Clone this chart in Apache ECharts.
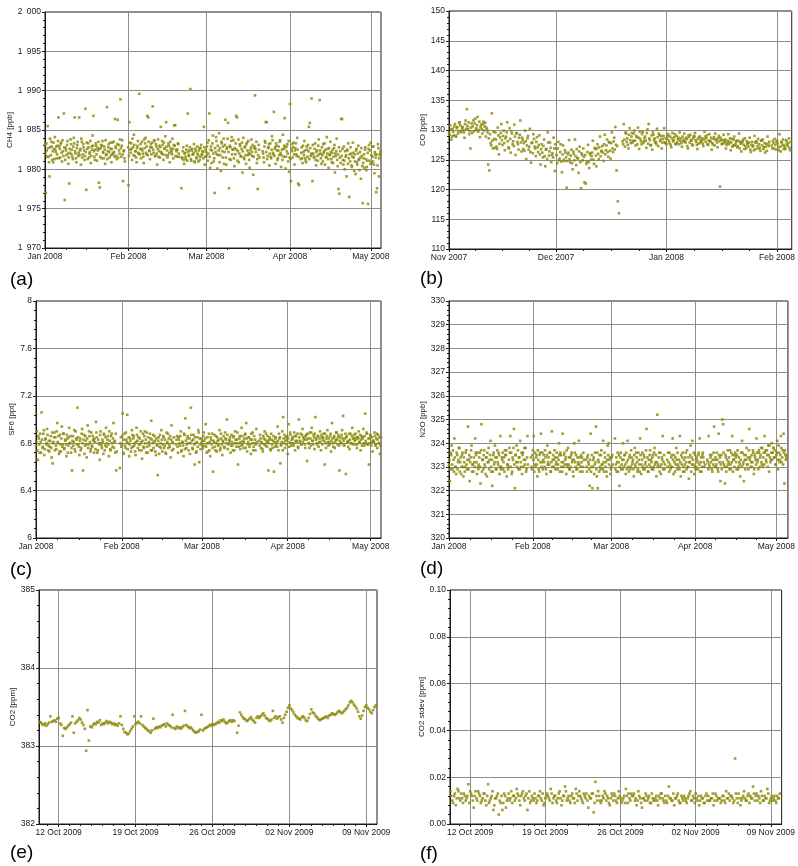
<!DOCTYPE html>
<html>
<head>
<meta charset="utf-8">
<script src="https://cdn.jsdelivr.net/npm/echarts@6/dist/echarts.min.js"></script>
<style>
  html, body { margin: 0; padding: 0; background: #fff; }
  #chart { width: 798px; height: 866px; }
</style>
</head>
<body>
<div id="chart"></div>
<script>
// Two interleaved sample passes per panel where the reference band is dense.

// (a) CH4 [ppb], 8 h sampling from 1 Jan 2008 00:00 and 04:00
const ch4Start = '2008-01-01T00:00:00';
const ch4StartB = '2008-01-01T04:00:00';
const ch4StepH = 8;
const ch4Values = [
  1983.1,1977.0,1982.4, 1985.5,1981.6,1979.1, 1982.8,1983.5,1981.2, 1980.9,1982.6,1984.1, 1982.2,1981.4,1983.0,
  1986.6,1982.9,1981.5, 1983.4,1981.0,1982.3, 1987.1,1976.1,1982.7, 1981.8,1983.6,1980.7, 1978.2,1982.1,1983.2,
  1982.5,1981.3,1984.0, 1986.6,1982.0,1980.9, 1983.1,1981.7,1986.6, 1982.4,1980.6,1983.5, 1981.9,1982.8,1981.2,
  1987.7,1977.4,1982.6, 1983.3,1981.5,1982.2, 1980.8,1982.9,1984.3, 1986.8,1981.6,1982.5, 1983.0,1981.1,1982.4,
  1978.3,1977.7,1982.7, 1981.4,1983.6,1982.1, 1982.9,1980.7,1981.8, 1987.9,1982.3,1983.2, 1981.5,1982.6,1980.9,
  1983.4,1981.9,1982.2, 1986.4,1982.7,1981.3, 1986.3,1983.1,1982.0, 1988.9,1981.6,1983.7, 1978.5,1982.4,1981.0,
  null,null,null, 1978.0,1986.0,1982.5, 1983.3,1981.2,1982.8, 1984.4,1981.7,1982.3, 1980.9,1983.0,1982.1,
  1989.6,1982.6,1981.4, 1983.5,1982.0,1980.8, 1982.7,1984.0,1981.9, 1986.8,1986.6,1982.4, 1981.3,1983.2,1982.8,
  1988.0,1982.1,1983.6, 1981.7,1982.9,1980.6, 1983.8,1982.3,1981.5, 1985.4,1982.0,1983.1, 1981.2,1982.6,1984.2,
  1986.0,1982.4,1981.8, 1983.0,1980.9,1982.7, 1982.2,1983.9,1981.4, 1985.6,1985.6,1982.5, 1981.6,1983.3,1982.0,
  null,null,1977.6, 1981.5,1982.8,1980.7, 1982.1,1981.3,1983.0, 1987.1,1981.8,1982.4, 1990.2,1981.1,1982.6,
  1981.9,1983.2,1980.9, 1982.3,1981.4,1982.0, 1981.0,1982.7,1981.6, 1983.1,1981.8,1982.2, 1985.4,1980.6,1982.5,
  1981.7,1983.4,1982.0, 1987.1,1980.2,1982.9, 1982.4,1984.3,1981.0, 1977.0,1982.2,1983.6, 1980.1,1981.8,1984.6,
  1982.7,1979.8,1983.3, 1981.5,1983.9,1982.2, 1986.3,1980.6,1982.8, 1985.9,1977.6,1983.0, 1981.2,1984.1,1982.5,
  1983.7,1980.4,1981.9, 1986.8,1986.6,1982.3, 1980.9,1983.2,1981.6, 1982.6,1979.6,1984.0, 1981.3,1982.9,1980.7,
  1983.4,1981.8,1982.1, 1980.2,1982.5,1983.8, 1981.7,1979.3,1982.7, 1989.4,1982.2,1980.8, 1977.5,1983.1,1981.5,
  null,null,null, 1982.0,1980.9,1983.6, 1986.0,1986.0,1981.7, 1982.8,1980.5,1983.3, 1981.4,1984.2,1982.1,
  1987.3,1982.6,1980.7, 1983.0,1981.2,1982.4, 1981.8,1983.7,1980.3, 1982.5,1984.4,1981.6, 1986.5,1980.1,1982.9,
  1983.2,1981.0,1979.7, 1988.3,1978.5,1982.3, 1981.5,1983.4,1980.6, 1982.7,1981.9,1984.0, 1978.2,1978.0,null,
  1981.3,1982.8,1980.8, 1982.2,1983.6,1981.4, 1980.9,1982.5,1983.1, 1985.4,1985.9,1981.7, 1989.0,1978.5,1982.0,
  1981.6,1983.3,1980.5, 1982.4,1981.1,1983.8, 1988.8,1982.0,1980.7, 1981.8,1983.2,1982.3, 1980.6,1981.5,1984.1,
  1982.6,1980.2,1981.9, 1983.5,1981.3,1982.1, 1980.8,1982.7,1979.6, 1981.7,1983.9,1980.4, 1977.5,1976.9,1982.3,
  1986.4,1986.4,1981.2, 1982.9,1980.0,1981.6, 1979.1,1982.4,1983.3, 1976.5,1981.0,1982.0, 1980.3,1983.4,1981.5,
  1981.9,1979.4,1982.6, 1980.6,1983.0,1981.3, 1982.2,1978.8,1981.7, 1975.7,1981.4,1980.2, 1982.8,1979.9,1981.1,
  1975.6,1983.1,1982.4, 1983.4,1980.8,1981.6, 1982.9,1979.5,1981.9, 1977.1,1977.6,1983.2, 1979.1,1981.8,1982.3
];
const ch4ValuesB = [
  1982.0,1983.3,1981.6, 1982.7,1980.9,1983.9, 1981.8,1982.9,1982.3, 1983.4,1981.3,1982.5, 1982.9,1981.9,1983.6,
  1981.4,1982.6,1983.2, 1982.1,1983.7,1981.7, 1982.8,1981.2,1982.4, 1983.1,1982.0,1981.5, 1982.6,1983.8,1981.9,
  1981.6,1982.9,1983.3, 1982.3,1981.4,1982.7, 1983.5,1982.1,1981.8, 1982.6,1983.9,1981.5, 1983.2,1982.4,1981.7,
  1982.2,1983.4,1981.3, 1982.8,1982.0,1983.6, 1981.7,1982.5,1983.0, 1982.3,1981.2,1983.3, 1981.9,1982.7,1983.5,
  1982.6,1981.6,1983.1, 1983.0,1982.2,1981.4, 1982.5,1983.7,1981.9, 1981.3,1982.8,1982.2, 1983.4,1981.8,1982.6,
  1982.1,1983.5,1981.6, 1982.9,1981.7,1983.2, 1981.5,1982.4,1983.8, 1982.7,1983.0,1981.9, 1982.3,1981.4,null,
  null,null,1982.8, 1981.7,1983.4,1982.1, 1982.6,1983.9,1981.8, 1983.1,1982.3,1981.5, 1982.7,1983.6,1982.0,
  1981.9,1983.2,1982.6, 1982.4,1981.6,1983.8, 1983.3,1982.1,1982.9, 1981.8,1983.5,1982.3, 1982.8,1981.9,1983.4,
  1982.5,1983.7,1981.7, 1983.2,1982.0,1982.6, 1981.6,1983.0,1982.8, 1982.2,1983.6,1981.9, 1983.4,1982.7,1981.8,
  1982.9,1981.5,1983.3, 1982.1,1983.5,1982.4, 1981.9,1982.6,1983.1, 1983.0,1981.7,1982.3, 1982.5,1983.2,1981.6,
  null,null,1981.4, 1982.3,1981.2,1982.0, 1981.6,1982.5,1981.1, 1982.2,1981.7,1982.8, 1981.3,1982.4,1981.9,
  1982.1,1981.0,1982.6, 1981.5,1982.9,1981.8, 1982.4,1981.2,1982.7, 1981.9,1982.3,1981.4, 1982.8,1981.6,1982.2,
  1982.9,1981.1,1983.7, 1981.6,1982.5,1980.8, 1983.3,1982.0,1981.4, 1982.7,1984.1,1981.9, 1983.0,1982.4,1980.9,
  1981.8,1983.5,1982.3, 1982.9,1980.7,1983.1, 1981.5,1982.6,1983.9, 1982.2,1981.3,1982.8, 1983.6,1981.9,1982.5,
  1981.4,1982.7,1983.3, 1982.5,1981.1,1983.8, 1982.0,1983.0,1981.7, 1983.4,1982.3,1981.5, 1982.8,1981.8,1983.2,
  1982.4,1983.6,1981.2, 1981.9,1982.8,1982.2, 1983.1,1981.6,1982.9, 1982.6,1983.5,1981.3, 1981.8,1982.5,null,
  null,null,1982.3, 1981.5,1982.9,1983.4, 1982.2,1981.3,1982.7, 1983.2,1982.0,1981.6, 1982.5,1983.7,1981.9,
  1981.7,1982.8,1983.3, 1982.4,1981.4,1982.9, 1983.5,1982.1,1981.8, 1981.2,1982.6,1983.0, 1982.7,1981.6,1982.3,
  1982.0,1983.6,1981.5, 1981.3,1982.6,1983.2, 1982.8,1981.9,1982.4, 1983.3,1981.7,1982.5, 1981.6,null,null,
  1982.1,1981.4,1983.0, 1981.8,1982.4,1981.1, 1982.9,1981.6,1982.3, 1981.3,1982.7,1982.0, 1981.9,1983.1,1981.5,
  1982.6,1981.2,1982.2, 1981.7,1983.0,1981.9, 1982.4,1981.4,1982.8, 1981.0,1982.1,1983.3, 1982.5,1981.6,1982.0,
  1981.3,1982.7,1981.8, 1982.2,1980.9,1982.5, 1981.6,1983.1,1982.0, 1982.3,1981.2,1981.9, 1982.8,1981.5,1980.8,
  1981.7,1982.6,1980.6, 1981.1,1982.3,1981.8, 1982.5,1980.7,1981.4, 1981.9,1982.8,1980.5, 1981.6,1982.1,1979.8,
  1981.0,1982.4,1980.9, 1982.0,1981.2,1979.9, 1981.5,1982.7,1980.4, 1980.8,1981.9,1982.5, 1981.3,1980.3,1982.1,
  1982.6,1981.1,1980.7, 1981.8,1982.9,1981.0, 1980.6,1982.2,1981.5, 1981.9,1980.5,1982.7, 1981.4,1982.0,1980.9
];

// (b) CO [ppb], 8 h sampling from 1 Nov 2007 00:00 and 04:00
const coStart = '2007-11-01T00:00:00';
const coStartB = '2007-11-01T04:00:00';
const coStepH = 8;
const coValues = [
  129.5,130.8,128.4, 130.2,129.1,131.0, 128.9,130.5,129.8, 131.3,129.6,130.4, 130.0,128.7,131.6,
  133.5,130.2,129.3, 126.9,131.1,130.6, 129.8,131.9,130.3, 132.2,130.0,128.8, 130.9,129.4,131.4,
  130.6,128.9,130.1, 124.2,123.2,127.8, 132.8,126.9,128.5, 129.6,127.2,130.4, 125.9,128.8,131.0,
  127.5,129.9,126.6, 128.9,131.3,127.1, 130.3,126.2,129.4, 128.1,130.9,125.8, 129.5,127.6,128.7,
  131.6,126.4,128.3, 127.8,129.9,125.1, 128.6,126.7,130.2, 124.5,127.9,129.3, 127.2,125.6,128.8,
  126.3,129.1,124.2, 127.6,125.4,128.4, 123.9,126.8,129.6, 125.7,127.9,124.6, 126.1,128.7,123.1,
  126.9,124.4,128.0, 125.2,127.6,122.9, 127.4,124.8,126.2, 120.3,125.9,128.3, 124.6,126.7,123.4,
  126.0,128.4,124.1, 125.3,122.8,127.2, 120.2,125.8,126.9, 121.2,121.0,124.7, 127.5,123.6,126.1,
  125.6,128.2,124.3, 126.8,123.9,127.6, 125.1,128.9,126.4, 127.3,124.8,129.2, 126.6,128.4,125.5,
  127.9,125.2,129.6, 126.3,128.7,130.5, 123.2,118.0,116.0, null,null,128.1, 131.0,127.2,129.4,
  128.6,126.9,130.3, 127.8,129.5,128.2, 129.9,127.4,128.8, 130.4,126.8,128.5, 127.6,129.7,128.1,
  128.9,127.0,130.1, 131.0,128.3,127.5, 126.7,129.2,128.6, 128.0,130.2,127.3, 129.1,128.4,126.9,
  128.5,130.3,127.8, 127.6,129.0,128.2, 128.9,127.1,129.5, 128.3,129.3,127.6, 127.9,128.7,129.6,
  128.6,127.2,128.1, 129.4,127.9,128.5, 126.9,128.8,129.2, 128.2,127.4,129.0, 129.5,128.0,126.8,
  127.7,128.9,128.3, 128.6,127.3,129.7, 128.0,129.1,127.5, 129.3,128.2,126.7, 127.6,128.8,129.4,
  128.4,127.1,129.0, 120.5,128.3,127.7, 129.2,128.1,126.9, 127.8,129.3,128.0, 126.6,128.5,127.4,
  128.9,127.6,128.2, 127.3,129.4,128.0, 126.4,128.1,127.5, 128.6,126.9,127.8, 127.2,128.7,126.3,
  128.0,127.4,129.0, 126.8,127.9,128.5, 127.6,126.5,128.2, 128.4,127.1,126.2, 127.7,128.9,127.3,
  null,null,126.9, 127.8,128.5,126.7, 128.2,127.1,129.3, 126.4,127.9,128.4, 127.5,126.8,128.1,
  127.3,128.6,126.6
];
const coValuesB = [
  129.2,130.1,128.9, 129.7,130.6,129.0, 130.3,129.4,131.2, 130.8,129.9,130.5, 129.6,131.0,130.2,
  130.7,131.3,129.8, 130.4,129.5,131.6, 131.1,130.0,130.8, 129.7,131.4,130.5, 130.2,131.0,129.9,
  131.2,130.4,129.6, 128.6,129.3,127.4, 128.2,129.7,127.0, 128.4,126.8,129.1, 127.7,129.5,128.3,
  129.0,127.8,128.6, 129.6,128.1,126.9, 128.5,129.8,127.6, 127.3,128.9,129.4, 128.0,126.7,129.2,
  127.9,128.7,126.8, 126.5,128.1,127.4, 129.0,127.2,126.3, 127.8,126.1,128.5, 126.9,128.0,127.1,
  127.5,125.9,126.8, 126.2,127.3,125.6, 126.7,125.1,127.9, 126.4,127.0,125.8, 125.4,126.9,127.6,
  125.8,126.9,124.9, 126.3,124.7,125.9, 125.0,126.6,125.4, 124.8,126.2,125.1, 125.7,124.4,126.4,
  124.9,125.6,126.8, 125.2,126.4,124.6, 126.1,124.9,125.5, 125.8,124.3,126.3, 124.6,125.9,125.0,
  126.2,125.0,127.0, 125.7,126.9,126.0, 127.1,125.6,126.5, 126.2,127.6,125.9, 127.4,126.3,128.0,
  126.5,127.8,126.9, 128.1,126.7,127.5, 127.3,null,null, null,null,127.6, 128.4,129.6,128.0,
  127.5,129.2,128.3, 128.9,127.9,129.4, 128.2,129.0,127.6, 128.7,129.7,128.1, 129.3,127.8,128.6,
  128.2,129.5,127.7, 128.6,127.4,129.1, 129.6,128.3,127.9, 127.6,128.8,129.4, 128.1,129.0,127.9,
  129.0,127.9,128.6, 128.5,129.3,127.8, 127.5,128.6,128.1, 128.8,127.7,129.0, 128.4,127.6,128.2,
  127.8,128.9,128.4, 128.1,128.7,127.3, 129.1,127.9,128.3, 127.6,128.6,128.9, 128.3,127.5,128.5,
  128.8,127.9,128.1, 127.7,128.4,128.9, 128.6,127.6,128.2, 128.0,128.7,127.8, 128.5,127.4,128.3,
  127.9,128.6,128.1, 128.7,127.6,128.3, 127.8,128.4,127.5, 128.2,127.6,128.6, 127.9,127.2,128.4,
  127.4,128.0,127.1, 128.2,126.9,127.7, 127.9,128.4,126.8, 127.3,128.1,127.6, 127.9,126.7,127.5,
  127.2,126.6,127.9, 128.1,127.3,126.9, 127.0,128.2,127.4, 126.8,127.8,127.2, 126.5,127.6,128.0,
  null,127.4,128.2, 126.9,127.5,128.0, 127.7,126.6,127.2, 128.0,127.4,126.8, 127.1,128.3,127.6,
  127.8,127.0,128.0
];

// (c) SF6 [ppt], 8 h sampling from 1 Jan 2008 00:00 and 04:00
const sf6Start = '2008-01-01T00:00:00';
const sf6StartB = '2008-01-01T04:00:00';
const sf6StepH = 8;
const sf6Values = [
  6.78,6.90,6.66, 6.84,6.72,6.81, 7.06,6.76,6.88, 6.70,6.83,6.79, 6.92,6.74,6.82,
  6.77,6.86,6.68, 6.63,6.81,6.89, 6.85,6.75,6.97, 6.80,6.71,6.87, 6.73,6.94,6.79,
  6.88,6.76,6.82, 6.69,6.84,6.78, 6.93,6.80,6.72, 6.57,6.86,6.81, 6.75,6.90,6.83,
  7.10,6.79,6.70, 6.84,6.76,6.92, 6.57,6.87,6.78, 6.82,6.68,6.95, 6.79,6.86,6.73,
  6.89,6.77,6.83, 6.72,6.81,6.98, 6.85,6.74,6.80, 6.66,6.90,6.78, 6.83,6.71,6.87,
  6.78,6.93,6.80, 6.86,6.69,6.82, 6.74,6.88,6.77, 6.97,6.81,6.72, 6.57,null,null,
  null,6.59,6.85, 6.79,7.05,6.71, 6.88,6.76,6.83, 7.04,6.80,6.69, 6.84,6.73,6.91,
  6.77,6.86,6.80, 6.70,6.93,6.82, 6.85,6.74,6.79, 6.81,6.67,6.88, 6.76,6.90,6.83,
  6.89,6.72,6.80, 6.78,6.84,6.99, 6.74,6.87,6.81, 6.82,6.70,6.78, 6.53,6.85,6.77,
  6.80,6.91,6.73, 6.86,6.76,6.83, 6.71,6.80,6.88, 6.84,6.77,6.68, 6.95,6.81,6.75,
  null,null,6.79, 6.86,6.72,6.83, 6.78,6.90,6.74, 6.81,6.69,6.87, 7.01,6.76,6.84,
  6.80,6.93,6.71, 7.10,6.82,6.75, 6.87,6.62,6.80, 6.73,6.85,6.91, 6.64,6.79,6.84,
  6.82,6.76,6.89, 6.78,6.96,6.72, 6.85,6.80,6.74, 6.69,6.83,6.88, 6.56,6.81,6.77,
  6.86,6.73,6.82, 6.79,6.91,6.76, 6.84,6.70,6.81, 6.77,6.89,6.83, 7.00,6.75,6.80,
  6.82,6.72,6.87, 6.78,6.85,6.74, 6.90,6.80,6.83, 6.62,6.77,6.86, 6.81,6.93,6.79,
  6.76,6.84,6.88, 6.97,6.73,6.81, 6.85,6.79,6.71, 6.83,6.89,6.77, 6.80,6.74,6.92,
  null,null,6.82, 6.87,6.76,6.80, 6.73,6.84,6.90, 6.78,6.81,6.86, 6.57,6.83,6.75,
  6.88,6.79,6.82, 6.56,6.77,6.85, 6.81,6.94,6.74, 6.84,6.63,6.79, 6.90,7.02,6.80,
  6.76,6.85,6.83, 6.71,6.96,6.81, 6.87,6.78,6.84, 6.80,6.89,6.74, 6.86,6.82,6.77,
  7.00,6.81,6.88, 6.79,6.92,6.85, 6.83,6.76,6.87, 6.65,6.84,6.80, 6.89,6.78,6.93,
  6.82,6.87,6.75, 7.02,6.84,6.79, 6.86,6.81,6.90, 6.74,6.85,6.83, 6.88,6.62,6.80,
  6.84,6.91,6.78, 6.81,6.86,6.73, 6.97,6.80,6.85, 6.76,6.83,6.89, 6.79,6.87,6.57,
  6.85,6.80,6.91, 7.03,6.78,6.84, 6.54,6.86,6.81, 6.82,6.75,6.88, 6.80,6.93,6.84,
  6.87,6.79,6.83, 6.76,6.85,6.90, 6.81,6.74,6.86, 6.84,6.92,6.78, 7.05,6.80,6.88,
  6.79,6.62,6.84, 6.86,6.81,6.73, 6.82,6.89,6.78, 6.84,6.76,6.87, 6.80,6.71,6.85
];
const sf6ValuesB = [
  6.81,6.74,6.86, 6.79,6.88,6.72, 6.83,6.77,6.91, 6.75,6.84,6.80, 6.87,6.78,6.73,
  6.82,6.76,6.89, 6.80,6.85,6.74, 6.78,6.90,6.81, 6.86,6.73,6.79, 6.84,6.77,6.88,
  6.75,6.83,6.79, 6.87,6.72,6.85, 6.80,6.86,6.76, 6.82,6.78,6.91, 6.73,6.84,6.79,
  6.85,6.77,6.82, 6.74,6.88,6.80, 6.83,6.71,6.86, 6.79,6.84,6.76, 6.90,6.81,6.75,
  6.78,6.86,6.82, 6.84,6.75,6.89, 6.72,6.83,6.79, 6.87,6.80,6.76, 6.81,6.88,6.74,
  6.85,6.77,6.83, 6.79,6.90,6.75, 6.86,6.80,6.84, 6.76,6.82,6.88, 6.73,null,null,
  null,6.80,6.77, 6.86,6.72,6.83, 6.78,6.89,6.81, 6.75,6.85,6.79, 6.82,6.76,6.87,
  6.84,6.78,6.73, 6.81,6.87,6.76, 6.79,6.84,6.90, 6.74,6.82,6.77, 6.86,6.80,6.72,
  6.77,6.85,6.81, 6.88,6.74,6.83, 6.80,6.76,6.86, 6.73,6.84,6.79, 6.82,6.71,6.87,
  6.76,6.83,6.79, 6.85,6.78,6.72, 6.89,6.81,6.76, 6.79,6.86,6.83, 6.74,6.80,6.85,
  null,null,6.83, 6.77,6.85,6.80, 6.86,6.73,6.81, 6.78,6.88,6.75, 6.82,6.79,6.86,
  6.74,6.84,6.80, 6.87,6.76,6.83, 6.79,6.85,6.72, 6.81,6.77,6.89, 6.84,6.75,6.80,
  6.78,6.86,6.82, 6.84,6.77,6.80, 6.73,6.88,6.81, 6.85,6.79,6.76, 6.82,6.87,6.74,
  6.80,6.85,6.78, 6.83,6.74,6.88, 6.79,6.82,6.86, 6.76,6.84,6.80, 6.87,6.79,6.83,
  6.85,6.78,6.81, 6.74,6.86,6.80, 6.83,6.77,6.89, 6.80,6.84,6.75, 6.78,6.86,6.82,
  6.81,6.87,6.76, 6.84,6.79,6.85, 6.77,6.83,6.88, 6.80,6.74,6.86, 6.83,6.79,6.81,
  null,null,6.78, 6.84,6.81,6.75, 6.86,6.79,6.83, 6.88,6.77,6.82, 6.80,6.85,6.74,
  6.83,6.76,6.86, 6.81,6.84,6.79, 6.77,6.82,6.88, 6.85,6.78,6.81, 6.74,6.84,6.87,
  6.82,6.79,6.86, 6.84,6.77,6.89, 6.80,6.83,6.85, 6.78,6.86,6.82, 6.81,6.88,6.76,
  6.85,6.82,6.79, 6.87,6.81,6.84, 6.79,6.86,6.83, 6.88,6.80,6.76, 6.84,6.89,6.82,
  6.79,6.85,6.88, 6.83,6.80,6.86, 6.77,6.84,6.81, 6.87,6.79,6.85, 6.82,6.88,6.76,
  6.86,6.81,6.84, 6.79,6.88,6.82, 6.84,6.77,6.86, 6.81,6.89,6.83, 6.85,6.78,6.82,
  6.80,6.87,6.84, 6.82,6.79,6.88, 6.85,6.81,6.77, 6.88,6.83,6.80, 6.86,6.79,6.84,
  6.82,6.88,6.85, 6.79,6.84,6.81, 6.87,6.83,6.78, 6.85,6.80,6.86, 6.82,6.89,6.79,
  6.84,6.80,6.87, 6.78,6.85,6.82, 6.81,6.86,6.79, 6.88,6.83,6.80, 6.85,6.78,6.82
];

// (d) N2O [ppb], 8 h sampling from 1 Jan 2008 00:00 and 04:00
const n2oStart = '2008-01-01T00:00:00';
const n2oStartB = '2008-01-01T04:00:00';
const n2oStepH = 8;
const n2oValues = [
  323.1,322.4,323.6, 323.9,322.9,323.3, 324.2,323.0,322.7, 323.5,323.2,323.8, 322.8,323.4,323.0,
  323.6,322.6,323.2, 323.0,323.7,322.9, 324.7,323.3,322.4, 323.4,323.9,323.1, 322.8,323.2,324.2,
  323.5,322.7,323.0, 323.1,323.6,322.3, 324.8,323.3,322.9, 323.7,323.0,323.4, 322.6,323.2,323.8,
  323.3,324.1,322.8, 322.2,323.5,323.1, 323.9,322.9,323.4, 323.2,323.6,322.7, 324.3,323.0,323.3,
  322.9,323.4,323.7, 323.5,322.6,323.1, 323.0,323.8,324.3, 323.6,322.8,323.3, 324.6,322.1,323.5,
  323.9,323.2,322.9, 323.4,324.1,323.0, 322.7,323.6,323.3, 323.1,323.8,322.9, 324.3,null,null,
  null,323.4,322.9, 323.7,324.3,323.1, 323.0,323.5,322.6, 323.3,322.8,323.6, 324.4,323.2,322.9,
  323.5,323.0,323.4, 322.7,323.9,323.2, 323.1,323.6,322.8, 324.5,323.3,323.0, 323.7,322.9,323.2,
  323.4,323.1,324.0, 322.8,323.5,323.2, 324.4,323.0,323.6, 323.3,322.7,323.1, 323.8,323.4,322.9,
  323.0,323.6,323.3, 322.6,324.0,323.2, 323.5,322.9,323.1, 324.1,323.4,323.0, 323.2,322.8,323.6,
  null,null,323.3, 322.8,323.5,323.1, 322.2,324.4,323.0, 322.1,323.3,322.7, 323.6,324.7,322.6,
  322.1,323.2,323.5, 322.9,323.7,323.1, 324.1,322.8,323.4, 323.2,322.6,323.9, 324.0,323.3,322.7,
  323.0,323.5,null, null,324.2,323.1, 322.8,323.6,323.2, 322.2,323.4,322.9, 323.3,324.0,323.0,
  323.5,322.7,323.2, 324.1,323.0,323.4, 322.9,323.7,323.1, 323.3,322.6,323.8, 323.0,323.4,322.8,
  323.6,323.1,324.2, 322.7,323.3,323.0, 323.5,322.9,323.2, 324.6,323.4,322.8, 323.1,323.7,323.3,
  322.9,323.5,323.0, 323.8,323.2,322.6, 325.2,323.1,323.6, 323.0,322.7,323.4, 324.3,323.2,322.9,
  null,null,323.3, 323.6,322.8,323.1, 323.0,323.5,324.2, 322.7,323.2,323.4, 323.8,322.9,323.1,
  323.3,324.3,322.6, 323.1,323.6,323.0, 322.8,323.4,323.2, 323.7,323.0,322.5, 323.2,323.9,323.4,
  324.1,323.1,322.7, 323.5,323.0,323.3, 322.9,323.6,324.2, 323.2,322.8,323.5, 323.4,323.0,323.1,
  null,null,323.2, 324.3,323.0,323.4, 323.5,322.8,323.1, 324.7,323.3,323.0, 323.6,322.9,324.4,
  323.2,322.4,323.5, 325.0,324.8,323.1, 322.3,323.4,323.0, 323.7,323.2,322.9, 323.1,323.6,324.3,
  322.8,323.3,323.5, 323.4,322.9,323.7, 323.0,323.2,322.6, 323.6,324.1,323.1, 322.4,323.3,323.5,
  323.8,323.1,322.9, 324.6,323.4,323.2, 323.0,323.7,322.7, 323.5,323.3,324.2, 323.2,322.9,323.6,
  323.4,323.8,323.1, 323.0,323.6,324.3, 323.7,323.2,323.5, 323.9,322.8,323.4, 323.3,324.0,323.6,
  323.8,323.4,323.1, 323.5,324.1,322.9, 323.6,323.3,324.3, 323.2,323.7,324.4, 322.3,323.5,323.4
];
const n2oValuesB = [
  323.3,322.9,323.5, 323.1,323.7,322.8, 323.4,323.0,323.6, 322.9,323.3,323.8, 323.2,322.7,323.5,
  323.0,323.4,322.8, 323.6,323.1,323.3, 322.9,323.5,323.2, 323.7,322.8,323.1, 323.4,323.0,323.6,
  323.2,323.6,322.9, 323.4,323.0,323.7, 322.8,323.3,323.5, 323.1,322.7,323.4, 323.6,323.2,322.9,
  323.5,323.0,323.3, 322.8,323.6,323.2, 323.4,322.9,323.7, 323.1,323.5,323.0, 322.9,323.4,323.6,
  323.2,322.8,323.5, 323.7,323.1,322.9, 323.3,323.6,323.0, 322.7,323.4,323.8, 323.1,323.5,323.2,
  323.0,323.7,323.4, 322.9,323.2,323.6, 323.5,323.0,323.8, 323.3,322.8,323.4, 323.1,null,null,
  null,323.0,323.5, 323.3,322.8,323.6, 323.4,323.1,323.7, 322.9,323.5,323.2, 323.0,323.6,323.3,
  323.2,323.7,322.9, 323.5,323.1,323.4, 323.6,322.8,323.2, 323.0,323.5,323.3, 323.4,323.1,323.6,
  322.9,323.3,323.5, 323.6,323.0,322.8, 323.2,323.5,323.1, 323.4,323.7,323.0, 323.1,322.9,323.4,
  323.5,323.2,322.8, 323.3,323.6,323.0, 322.9,323.4,323.2, 323.1,322.8,323.5, 323.4,323.0,323.3,
  null,null,323.0, 323.4,323.2,322.9, 323.3,322.8,323.5, 323.0,323.4,323.1, 323.2,322.9,323.6,
  323.3,322.8,323.0, 323.5,323.1,322.9, 323.2,323.6,323.0, 322.8,323.3,323.5, 323.1,323.4,322.9,
  323.4,323.1,null, null,322.9,323.4, 323.2,322.8,323.5, 323.0,323.6,323.1, 322.9,323.3,323.5,
  323.1,323.6,322.9, 323.3,322.8,323.5, 323.0,323.4,323.2, 322.9,323.5,323.1, 323.6,323.2,322.9,
  323.3,322.8,323.5, 323.1,323.6,322.9, 323.4,323.1,323.7, 323.0,322.8,323.3, 323.5,323.0,323.2,
  323.4,322.9,323.6, 323.1,323.5,323.2, 323.0,323.4,322.8, 323.6,323.1,323.3, 322.9,323.5,323.1,
  null,null,323.0, 323.2,323.6,322.9, 323.4,323.0,323.3, 323.5,322.8,323.1, 323.3,323.6,323.0,
  322.9,323.2,323.5, 323.4,322.8,323.3, 323.1,323.6,322.9, 323.0,323.4,323.2, 323.5,322.8,323.1,
  323.3,323.6,323.0, 322.9,323.4,323.2, 323.5,323.1,322.8, 323.4,323.0,323.6, 323.2,null,null,
  null,323.3,322.9, 323.1,323.5,323.2, 322.9,323.3,323.6, 323.0,323.4,323.1, 323.3,322.8,323.5,
  323.4,323.1,322.9, 323.2,323.6,323.0, 323.5,322.8,323.3, 323.1,323.4,323.7, 322.9,323.2,323.5,
  323.3,323.0,323.6, 323.2,323.5,322.9, 323.4,323.1,323.3, 323.0,323.6,323.2, 323.5,322.9,323.3,
  323.1,323.4,323.7, 323.3,323.0,323.5, 323.2,323.6,322.9, 323.4,323.1,323.6, 323.3,323.7,323.0,
  323.5,323.2,323.8, 323.4,323.1,323.6, 323.3,323.7,323.0, 323.5,323.9,323.2, 323.6,323.3,323.8,
  323.4,323.7,323.1, 323.6,323.3,323.9, 323.2,323.5,323.8, 323.4,323.1,323.6, 323.7,323.3,323.5
];

// (e) CO2 [ppm], 3 h sampling from 10 Oct 2009 06:00
const co2Start = '2009-10-10T06:00:00';
const co2StepH = 3;
const co2Values = [
  383.31,383.30,383.28,383.27,383.29,383.26,383.28,383.30,
  383.38,383.31,383.32,383.33,383.31,383.35,383.36,383.29,
  383.27,383.13,383.23,383.22,383.24,383.26,383.28,383.30,
  383.38,383.17,383.29,383.31,383.33,383.36,383.34,383.30,
  383.27,383.22,382.94,383.46,383.07,383.25,383.24,383.27,
  383.29,383.28,383.31,383.30,383.33,383.27,383.29,383.28,
  383.30,383.32,383.29,383.31,383.30,383.28,383.29,383.27,
  383.28,383.26,383.29,383.38,383.27,383.22,383.18,383.17,
  383.15,383.16,383.19,383.22,383.25,383.38,383.28,383.30,
  383.31,383.29,383.38,383.27,383.25,383.23,383.22,383.20,
  383.19,383.17,383.20,383.35,383.22,383.24,383.23,383.25,
  383.24,383.26,383.27,383.28,383.25,383.29,383.27,383.26,
  383.24,383.40,383.23,383.22,383.25,383.23,383.24,383.22,
  383.24,383.26,383.45,383.27,383.25,383.23,383.24,383.22,
  383.20,383.18,383.17,383.18,383.19,383.21,383.40,383.20,
  383.22,383.23,383.24,383.25,383.27,383.26,383.28,383.27,
  383.28,383.29,383.31,383.30,383.33,383.32,383.34,383.31,
  383.29,383.30,383.32,383.33,383.31,383.33,383.32,null,
  383.17,383.26,383.43,383.40,383.37,383.35,383.34,383.32,
  383.33,383.35,383.37,383.34,383.32,383.30,383.36,383.38,
  383.36,383.38,383.40,383.42,383.39,383.36,383.35,383.33,
  383.32,383.34,383.45,383.36,383.38,383.35,383.37,383.38,
  383.34,383.30,383.36,383.40,383.44,383.49,383.52,383.48,
  383.46,383.43,383.40,383.38,383.36,383.35,383.34,383.37,
  383.38,383.36,383.33,383.32,383.36,383.41,383.47,383.43,
  383.42,383.39,383.37,383.35,383.33,383.34,383.35,383.36,
  383.37,383.38,383.36,383.39,383.40,383.42,383.41,383.40,
  383.41,383.43,383.45,383.44,383.42,383.43,383.45,383.47,
  383.49,383.52,383.56,383.58,383.56,383.53,383.51,383.48,
  383.44,383.38,383.35,383.39,383.45,383.50,383.52,383.49,
  383.47,383.44,383.42,383.46,383.50,383.52
];

// (f) CO2 stdev [ppm], 4 h sampling from 10 Oct 2009 04:00 and 06:00
const sdStart = '2009-10-10T04:00:00';
const sdStartB = '2009-10-10T06:00:00';
const sdStepH = 4;
const sdValues = [
  0.014,0.010,0.012,0.008,0.015,0.011, 0.013,0.009,0.012,0.011,0.017,0.014,
  0.012,0.007,0.014,0.010,0.013,0.009, 0.011,0.013,0.008,0.017,0.010,0.012,
  0.006,0.011,0.012,0.004,0.009,0.006, 0.013,0.007,0.011,0.010,0.014,0.012,
  0.010,0.015,0.012,0.008,0.013,0.011, 0.012,0.006,0.014,0.010,0.011,0.013,
  0.009,0.012,0.014,0.010,0.008,0.011, 0.013,0.011,0.015,0.009,0.012,0.010,
  0.011,0.014,0.008,0.012,0.016,0.010, 0.012,0.009,0.013,0.011,0.015,0.010,
  0.014,0.011,0.009,0.012,0.013,0.007, 0.011,0.013,0.005,0.018,0.010,0.012,
  0.009,0.012,0.014,0.010,0.011,0.008, 0.013,0.010,0.012,0.009,0.014,0.011,
  0.010,0.012,0.015,0.009,0.011,0.013, 0.012,0.010,0.008,0.014,0.011,0.007,
  0.011,0.013,0.010,0.012,0.009,0.011, 0.010,0.012,0.008,0.011,0.013,0.010,
  0.012,0.009,0.016,0.011,0.010,0.008, 0.011,0.013,0.009,0.012,0.010,0.011,
  0.009,0.012,0.014,0.010,0.011,0.013, 0.010,0.008,0.012,0.011,0.009,0.013,
  0.012,0.010,0.011,0.008,0.013,0.010, 0.011,0.009,0.012,0.010,0.014,0.011,
  0.010,0.012,0.009,0.028,0.011,0.013, 0.008,0.011,0.014,0.010,0.012,0.009,
  0.011,0.016,0.010,0.013,0.012,0.009, 0.012,0.010,0.011,0.015,0.009,0.011,
  0.010,0.012,0.009,0.011,0.013
];
const sdValuesB = [
  0.012,0.009,0.013,0.011,0.014,0.010, 0.011,0.013,0.010,0.012,0.009,0.013,
  0.010,0.012,0.011,0.014,0.012,0.010, 0.013,0.010,0.012,0.009,0.011,0.014,
  0.008,0.011,0.013,0.010,0.012,0.009, 0.012,0.010,0.013,0.011,0.009,0.012,
  0.011,0.013,0.010,0.012,0.014,0.010, 0.013,0.011,0.009,0.012,0.010,0.011,
  0.010,0.012,0.011,0.013,0.009,0.012, 0.012,0.010,0.013,0.011,0.012,0.009,
  0.013,0.011,0.010,0.012,0.014,0.011, 0.010,0.012,0.011,0.009,0.013,0.012,
  0.012,0.010,0.013,0.011,0.010,0.012, 0.011,0.013,0.009,0.012,0.014,0.010,
  0.010,0.011,0.013,0.012,0.009,0.011, 0.012,0.013,0.010,0.011,0.012,0.009,
  0.011,0.009,0.012,0.013,0.010,0.012, 0.013,0.011,0.010,0.012,0.009,0.011,
  0.010,0.012,0.011,0.009,0.013,0.010, 0.011,0.010,0.012,0.013,0.011,0.009,
  0.010,0.012,0.011,0.010,0.013,0.011, 0.012,0.010,0.009,0.011,0.012,0.010,
  0.011,0.013,0.010,0.012,0.009,0.011, 0.012,0.010,0.011,0.009,0.012,0.010,
  0.010,0.011,0.013,0.010,0.012,0.011, 0.011,0.010,0.012,0.009,0.011,0.013,
  0.012,0.011,0.010,0.013,0.009,0.011, 0.010,0.012,0.011,0.010,0.013,0.012,
  0.011,0.013,0.012,0.010,0.011,0.014, 0.010,0.012,0.011,0.013,0.010,0.012,
  0.011,0.010,0.012,0.011
];

// axis ticks
const monthTicksJan = ['2008-01-01T00:00:00', '2008-02-01T00:00:00', '2008-03-01T00:00:00', '2008-04-01T00:00:00', '2008-05-01T00:00:00'];
const monthTicksNov = ['2007-11-01T00:00:00', '2007-12-01T00:00:00', '2008-01-01T00:00:00', '2008-02-01T00:00:00'];
const weekTicksOct = ['2009-10-12T00:00:00', '2009-10-19T00:00:00', '2009-10-26T00:00:00', '2009-11-02T00:00:00', '2009-11-09T00:00:00'];
const MON = ['Jan', 'Feb', 'Mar', 'Apr', 'May', 'Jun', 'Jul', 'Aug', 'Sep', 'Oct', 'Nov', 'Dec'];

const FONT = '"Liberation Sans", Arial, sans-serif';
const DOT = '#878700';
const GRIDLINE = '#8e8e8e';
const INK = '#1a1a1a';

const ts = (s) => new Date(s).getTime();

function toPoints(start, stepH, vals) {
  const t0 = ts(start);
  const out = [];
  vals.forEach((v, i) => { if (v != null) out.push([t0 + i * stepH * 3600e3, v]); });
  return out;
}

// small in-between ticks: quarter months or days
function quarterTicks(min, max) {
  const out = [];
  let d = new Date(ts(min));
  d = new Date(d.getFullYear(), d.getMonth(), 1);
  while (d.getTime() < ts(max)) {
    const n = new Date(d.getFullYear(), d.getMonth() + 1, 1);
    for (let k = 1; k < 4; k++) out.push(d.getTime() + (n - d) * k / 4);
    d = n;
  }
  return out;
}
function dayTicks(min, max) {
  const out = [];
  const a = new Date(ts(min));
  let d = new Date(a.getFullYear(), a.getMonth(), a.getDate() + 1);
  while (d.getTime() < ts(max)) { out.push(d.getTime()); d = new Date(d.getFullYear(), d.getMonth(), d.getDate() + 1); }
  return out;
}

const monthFmt = (v) => { const d = new Date(v); return MON[d.getMonth()] + ' ' + d.getFullYear(); };
const dayFmt = (v) => { const d = new Date(v); return String(d.getDate()).padStart(2, '0') + ' ' + MON[d.getMonth()] + ' ' + d.getFullYear(); };
const spaced = (v) => String(v).replace(/^(\d)(\d{3})$/, '$1\u2002$2');

const panels = [
  { tag: '(a)', tagAt: [10, 270], box: [45, 12, 336, 236], xMin: '2008-01-01T00:00:00', xMax: '2008-05-04T19:00:00',
    ticks: monthTicksJan, minor: 'q', xFmt: monthFmt, yMin: 1970, yMax: 2000, yStep: 5, yFmt: spaced, name: 'CH4 [ppb]', nameGap: 26,
    data: toPoints(ch4Start, ch4StepH, ch4Values).concat(toPoints(ch4StartB, ch4StepH, ch4ValuesB)) },
  { tag: '(b)', tagAt: [420, 269], box: [449, 11, 347, 238], xMin: '2007-11-01T00:00:00', xMax: '2008-02-05T03:00:00',
    ticks: monthTicksNov, minor: 'q', xFmt: monthFmt, yMin: 110, yMax: 150, yStep: 5, yFmt: null, name: 'CO [ppb]', nameGap: 20,
    data: toPoints(coStart, coStepH, coValues).concat(toPoints(coStartB, coStepH, coValuesB)) },
  { tag: '(c)', tagAt: [10, 560], box: [36, 301, 345, 237], xMin: '2008-01-01T00:00:00', xMax: '2008-05-04T17:00:00',
    ticks: monthTicksJan, minor: 'q', xFmt: monthFmt, yMin: 6, yMax: 8, yStep: 0.4, yFmt: null, name: 'SF6 [ppt]', nameGap: 17,
    data: toPoints(sf6Start, sf6StepH, sf6Values).concat(toPoints(sf6StartB, sf6StepH, sf6ValuesB)) },
  { tag: '(d)', tagAt: [420, 559], box: [449, 301, 343, 237], xMin: '2008-01-01T00:00:00', xMax: '2008-05-05T07:00:00',
    ticks: monthTicksJan, minor: 'q', xFmt: monthFmt, yMin: 320, yMax: 330, yStep: 1, yFmt: null, name: 'N2O [ppb]', nameGap: 20,
    data: toPoints(n2oStart, n2oStepH, n2oValues).concat(toPoints(n2oStartB, n2oStepH, n2oValuesB)) },
  { tag: '(e)', tagAt: [10, 843], box: [39, 590, 338, 234], xMin: '2009-10-10T05:00:00', xMax: '2009-11-09T23:30:00',
    ticks: weekTicksOct, minor: 'd', xFmt: dayFmt, yMin: 382, yMax: 385, yStep: 1, yFmt: null, name: 'CO2 [ppm]', nameGap: 20,
    data: toPoints(co2Start, co2StepH, co2Values) },
  { tag: '(f)', tagAt: [420, 844], box: [450, 590, 337, 234], xMin: '2009-10-10T03:00:00', xMax: '2009-11-10T00:00:00',
    ticks: weekTicksOct, minor: 'd', xFmt: dayFmt, yMin: 0, yMax: 0.1, yStep: 0.02, yFmt: (v) => v.toFixed(2), name: 'CO2 stdev [ppm]', nameGap: 20,
    data: toPoints(sdStart, sdStepH, sdValues).concat(toPoints(sdStartB, sdStepH, sdValuesB)) },
];

const grid = [], xAxis = [], yAxis = [], series = [], graphic = [];
panels.forEach((p, i) => {
  const [left, top, width, height] = p.box;
  grid.push({ left, top, width, height, show: true, borderColor: INK, borderWidth: 1, backgroundColor: 'transparent' });
  const xMin = ts(p.xMin), xMax = ts(p.xMax);
  const major = p.ticks.map(ts);
  // time kept as epoch ms on a value axis so tick positions can be given explicitly
  xAxis.push({
    type: 'value', gridIndex: i, min: xMin, max: xMax, scale: true,
    axisLine: { show: true, onZero: false, lineStyle: { color: INK, width: 1 } },
    axisTick: { show: true, length: 3, customValues: major, lineStyle: { color: INK } },
    axisLabel: { customValues: major, formatter: p.xFmt, fontSize: 8.5, color: INK, fontFamily: FONT, margin: 4, hideOverlap: false },
    splitLine: { show: true, lineStyle: { color: GRIDLINE, width: 1 } },
  });
  const minor = p.minor === 'q' ? quarterTicks(p.xMin, p.xMax) : dayTicks(p.xMin, p.xMax);
  xAxis.push({
    type: 'value', gridIndex: i, min: xMin, max: xMax, scale: true, position: 'bottom',
    axisLine: { show: false, onZero: false },
    axisTick: { show: true, length: 2, customValues: minor, lineStyle: { color: INK } },
    axisLabel: { show: false }, splitLine: { show: false },
  });
  yAxis.push({
    type: 'value', gridIndex: i, min: p.yMin, max: p.yMax, interval: p.yStep,
    name: p.name, nameLocation: 'middle', nameGap: p.nameGap,
    nameTextStyle: { fontSize: 8, color: INK, fontFamily: FONT },
    axisLine: { show: true, onZero: false, lineStyle: { color: INK, width: 1 } },
    axisTick: { show: true, length: 3, lineStyle: { color: INK } },
    minorTick: { show: true, splitNumber: 5, length: 2, lineStyle: { color: INK } },
    axisLabel: { fontSize: 8.5, color: INK, fontFamily: FONT, margin: 4, formatter: p.yFmt || undefined },
    splitLine: { show: true, lineStyle: { color: GRIDLINE, width: 1 } },
  });
  series.push({
    type: 'scatter', xAxisIndex: 2 * i, yAxisIndex: i, data: p.data,
    symbol: 'rect', symbolSize: 2.6, itemStyle: { color: DOT }, clip: true, silent: true,
  });
  graphic.push({ type: 'text', left: p.tagAt[0], top: p.tagAt[1], style: { text: p.tag, font: '19px ' + FONT, fill: '#000' } });
});

const chart = echarts.init(document.getElementById('chart'), null, { renderer: 'canvas' });
chart.setOption({ backgroundColor: '#fff', animation: false, grid, xAxis, yAxis, series, graphic });
</script>
</body>
</html>
